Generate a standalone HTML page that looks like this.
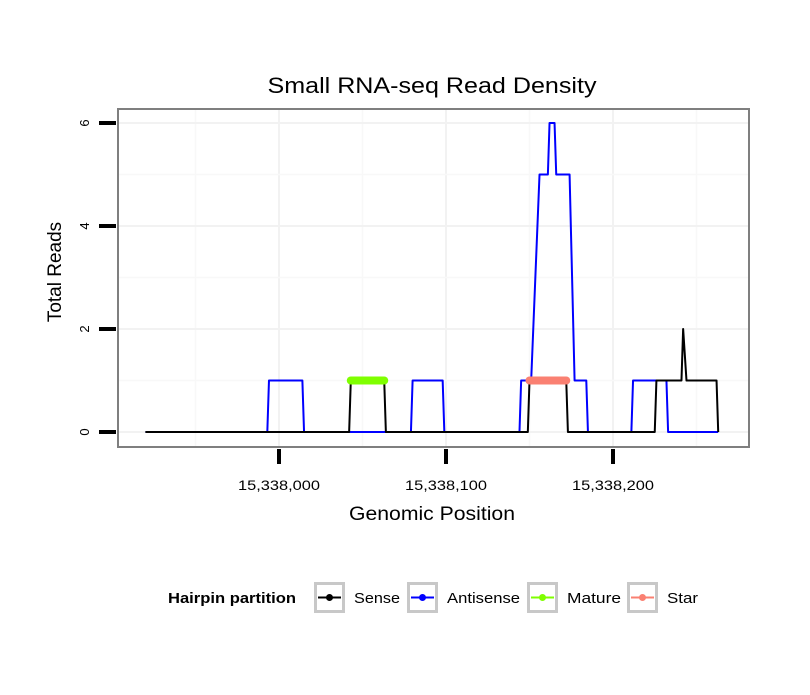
<!DOCTYPE html>
<html><head><meta charset="utf-8"><style>
body{margin:0;background:#fff;}
svg text{font-family:"Liberation Sans",sans-serif;}
</style></head><body>
<svg width="810" height="690" xmlns="http://www.w3.org/2000/svg">
<rect width="810" height="690" fill="#fff"/>
<text x="432" y="93" font-size="22" text-anchor="middle" textLength="329" lengthAdjust="spacingAndGlyphs">Small RNA-seq Read Density</text>
<g id="grid"></g>
<g id="series"></g>
<rect x="118" y="109" width="631" height="338" fill="none" stroke="#7f7f7f" stroke-width="2"/>
<g id="axes"></g>
<text x="432" y="520" font-size="19" text-anchor="middle" textLength="166" lengthAdjust="spacingAndGlyphs">Genomic Position</text>
<text transform="translate(61,272) rotate(-90)" font-size="19" text-anchor="middle">Total Reads</text>
<g>
<text x="168" y="603" font-size="15" font-weight="bold" textLength="128" lengthAdjust="spacingAndGlyphs">Hairpin partition</text>
<g id="legend"></g>
</g>
</svg>
<script>
const xTicks=[0,100,200];
const xTickLabels=["15,338,000","15,338,100","15,338,200"];
const yTicks=[0,2,4,6];
const senseX=[-80,42,43,63,64,149,150,172,173,225,226,241,242,244,262,263];
const senseY=[0,0,1,1,0,0,1,1,0,0,1,1,2,1,1,0];
const antiX=[-80,-7,-6,14,15,79,80,98,99,144,145,151,156,161,162,165,166,174,177,184,185,211,212,232,233,263];
const antiY=[0,0,1,1,0,0,1,1,0,0,1,1,5,5,6,6,5,5,1,1,0,0,1,1,0,0];
const matureX=[43,63];const matureY=[1,1];
const starX=[150,172];const starY=[1,1];
const legendLabels=["Sense","Antisense","Mature","Star"];
const legendColors=["#000000","#0000ff","#7fff00","#fa8072"];
const NS="http://www.w3.org/2000/svg";
const sx=v=>279+1.67*v, sy=v=>432-51.5*v;
function mk(t,a,p){const e=document.createElementNS(NS,t);for(const k in a)e.setAttribute(k,a[k]);p.appendChild(e);return e;}
const grid=document.getElementById('grid');
for(let v=-50;v<=250;v+=50){const l=mk('line',{x1:sx(v),x2:sx(v),y1:110,y2:446,stroke:v%100===0?'#f2f2f2':'#f8f8f8','stroke-width':v%100===0?2:1.5},grid);

}
for(let v=0;v<=6;v++){const l=mk('line',{x1:119,x2:748,y1:sy(v),y2:sy(v),stroke:v%2===0?'#f2f2f2':'#f8f8f8','stroke-width':v%2===0?2:1.5},grid);

}
const ser=document.getElementById('series');
function path(xs,ys,col,w,name,cap){const d=xs.map((x,i)=>(i?'L':'M')+sx(x)+' '+sy(ys[i])).join(' ');
const p=mk('path',{d:d,fill:'none',stroke:col,'stroke-width':w,'stroke-linecap':cap||'butt','stroke-linejoin':'round'},ser);

}
path(antiX,antiY,'#0000ff',2,'antisense-line');
path(senseX,senseY,'#000000',2,'sense-line');
path(matureX,matureY,'#7fff00',8,'mature-line','round');
path(starX,starY,'#fa8072',8,'star-line','round');
const ax=document.getElementById('axes');
xTicks.forEach((v,i)=>{const t=mk('line',{x1:sx(v),x2:sx(v),y1:449,y2:464,stroke:'#000','stroke-width':4},ax);


const tx=mk('text',{x:sx(v),y:490,'font-size':14,'text-anchor':'middle',textLength:82,lengthAdjust:'spacingAndGlyphs'},ax);tx.textContent=xTickLabels[i];

});
yTicks.forEach(v=>{const t=mk('line',{x1:99,x2:116,y1:sy(v),y2:sy(v),stroke:'#000','stroke-width':4},ax);


const tx=mk('text',{transform:`translate(89,${sy(v)}) rotate(-90)`,'font-size':13,'text-anchor':'middle'},ax);tx.textContent=v;

});
const lg=document.getElementById('legend');
const bx=[314,407,527,627];
const lw=[46,73,54,31];
legendLabels.forEach((lab,i)=>{const g=mk('g',{},lg);


mk('rect',{x:bx[i]+1.5,y:583.5,width:28,height:28,fill:'#fff',stroke:'#c8c8c8','stroke-width':3},g);
mk('line',{x1:bx[i]+4,x2:bx[i]+27,y1:597.5,y2:597.5,stroke:legendColors[i],'stroke-width':2},g);
mk('circle',{cx:bx[i]+15.5,cy:597.5,r:3.5,fill:legendColors[i]},g);
const t=mk('text',{x:bx[i]+40,y:603,'font-size':15,textLength:lw[i],lengthAdjust:'spacingAndGlyphs'},g);t.textContent=lab;});
</script>
</body></html>
